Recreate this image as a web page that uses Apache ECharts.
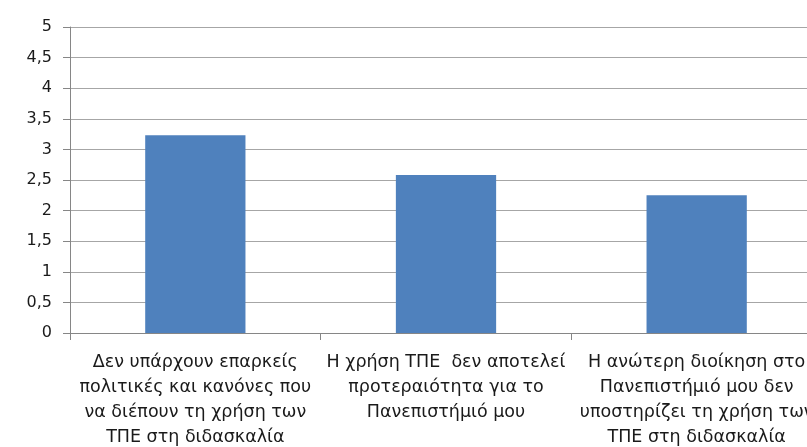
<!DOCTYPE html>
<html>
<head>
<meta charset="utf-8">
<script src="https://cdn.jsdelivr.net/npm/echarts@6/dist/echarts.min.js"></script>
<style>
  html, body { margin: 0; padding: 0; background: #fff; overflow: hidden; }
  /* το πρωτότυπο είναι κομμένο δεξιά: ο καμβάς είναι λίγο πλατύτερος από το παράθυρο */
  #main { width: 822px; height: 447px; }
</style>
</head>
<body>
<div id="main"></div>
<script>
// κατηγορίες (με αλλαγές γραμμής όπως στο πρωτότυπο)
var categories = [
    'Δεν υπάρχουν επαρκείς\nπολιτικές και κανόνες που\nνα διέπουν τη χρήση των\nΤΠΕ στη διδασκαλία',
    'Η χρήση ΤΠΕ  δεν αποτελεί\nπροτεραιότητα για το\nΠανεπιστήμιό μου',
    'Η ανώτερη διοίκηση στο\nΠανεπιστήμιό μου δεν\nυποστηρίζει τη χρήση των\nΤΠΕ στη διδασκαλία'
];
var values = [3.23, 2.58, 2.25];
var yTicks = [0, 0.5, 1, 1.5, 2, 2.5, 3, 3.5, 4, 4.5, 5];

var myChart = echarts.init(document.getElementById('main'));
var option = {
    animation: false,
    textStyle: { fontFamily: 'DejaVu Sans' },
    grid: {
        left: 70,
        top: 27,
        right: 0,
        height: 306,
        containLabel: false,
        outerBoundsMode: 'none'
    },
    xAxis: {
        type: 'category',
        data: categories,
        axisLine: { lineStyle: { color: '#868686', width: 1 } },
        axisTick: { show: true, length: 7, lineStyle: { color: '#868686' } },
        axisLabel: {
            interval: 0,
            color: '#1a1a1a',
            fontFamily: 'DejaVu Sans',
            fontSize: 17.5,
            lineHeight: 25,
            margin: 17
        }
    },
    yAxis: {
        type: 'value',
        min: yTicks[0],
        max: yTicks[yTicks.length - 1],
        interval: 0.5,
        axisLine: { show: true, lineStyle: { color: '#868686', width: 1 } },
        axisTick: { show: true, length: 7, lineStyle: { color: '#868686' } },
        splitLine: { lineStyle: { color: '#a6a6a6', width: 1 } },
        axisLabel: {
            color: '#1a1a1a',
            fontFamily: 'DejaVu Sans',
            fontSize: 16,
            margin: 18,
            formatter: function (v) { return String(v).replace('.', ','); }
        }
    },
    series: [{
        type: 'bar',
        data: values,
        barWidth: '40%',
        itemStyle: { color: '#4f81bd' }
    }]
};
myChart.setOption(option);
</script>
</body>
</html>
